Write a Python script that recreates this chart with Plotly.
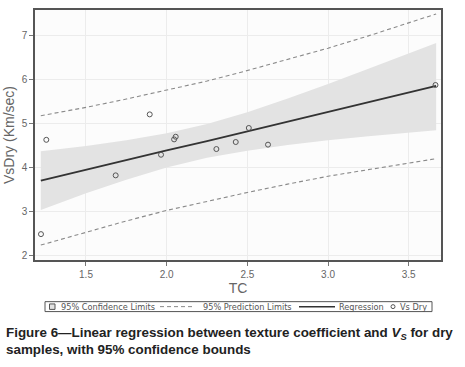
import plotly.graph_objects as go

tc = [1.221, 1.254, 1.684, 1.895, 1.965, 2.046, 2.056, 2.308, 2.428, 2.509, 2.628, 3.666]
vs_dry = [2.48, 4.63, 3.82, 5.21, 4.29, 4.64, 4.70, 4.42, 4.58, 4.90, 4.52, 5.88]

# Fit line and bands (at these TC values)
band_x = [1.22, 1.5, 1.75, 2.0, 2.25, 2.5, 2.75, 3.0, 3.25, 3.5, 3.67]
fit = [3.70, 3.95, 4.17, 4.39, 4.60, 4.82, 5.04, 5.26, 5.48, 5.70, 5.86]
ci_lo = [3.03, 3.41, 3.72, 4.00, 4.22, 4.38, 4.51, 4.62, 4.71, 4.79, 4.85]
ci_hi = [4.37, 4.49, 4.62, 4.78, 4.99, 5.26, 5.57, 5.90, 6.25, 6.60, 6.84]
pi_lo = [2.23, 2.53, 2.78, 3.02, 3.23, 3.43, 3.62, 3.80, 3.95, 4.10, 4.20]
pi_hi = [5.18, 5.37, 5.56, 5.76, 5.97, 6.21, 6.46, 6.72, 7.00, 7.29, 7.50]

x_ticks = [1.5, 2.0, 2.5, 3.0, 3.5]
y_ticks = [2, 3, 4, 5, 6, 7]

legend_labels = ["95% Confidence Limits", "95% Prediction Limits", "Regression", "Vs Dry"]

FONT = "Liberation Sans, Arial, sans-serif"
LEG_FONT = "DejaVu Sans, sans-serif"
GRAY = "#666666"
BAND = "#e3e3e3"
DASH = "#8a8a8a"
LINE = "#333333"
MARK = "#555555"
DASH_PATTERN = "4px,3px"

fig = go.Figure()

fig.add_trace(go.Scatter(x=band_x, y=ci_lo, mode="lines", line=dict(width=0),
                         showlegend=False, hoverinfo="skip"))
fig.add_trace(go.Scatter(x=band_x, y=ci_hi, mode="lines", line=dict(width=0),
                         fill="tonexty", fillcolor=BAND, showlegend=False,
                         name=legend_labels[0]))
fig.add_trace(go.Scatter(x=band_x, y=pi_lo, mode="lines",
                         line=dict(color=DASH, width=1.1, dash=DASH_PATTERN),
                         showlegend=False, name=legend_labels[1]))
fig.add_trace(go.Scatter(x=band_x, y=pi_hi, mode="lines",
                         line=dict(color=DASH, width=1.1, dash=DASH_PATTERN),
                         showlegend=False, name=legend_labels[1]))
fig.add_trace(go.Scatter(x=band_x, y=fit, mode="lines",
                         line=dict(color=LINE, width=2),
                         showlegend=False, name=legend_labels[2]))
fig.add_trace(go.Scatter(x=tc, y=vs_dry, mode="markers",
                         marker=dict(symbol="circle-open", size=5,
                                     color=MARK, line=dict(width=1)),
                         showlegend=False, name=legend_labels[3]))

# ---- compact legend box below the plot (paper coordinates) ----
PW, PH, L, T = 406.0, 252.0, 35.0, 8.0  # plot area size / offsets in px


def px_x(p):
    return (p - L) / PW


def px_y(p):
    return (T + PH - p) / PH


ly = px_y(307)
shapes = [
    dict(type="rect", xref="paper", yref="paper", x0=px_x(45), x1=px_x(432),
         y0=px_y(312), y1=px_y(302), line=dict(color="#555555", width=1),
         fillcolor="white", layer="above"),
    dict(type="rect", xref="paper", yref="paper", x0=px_x(49.5), x1=px_x(55),
         y0=px_y(309.8), y1=px_y(304.3), line=dict(color="#555555", width=1),
         fillcolor=BAND, layer="above"),
    dict(type="line", xref="paper", yref="paper", x0=px_x(160), x1=px_x(195),
         y0=ly, y1=ly, line=dict(color=DASH, width=1, dash=DASH_PATTERN), layer="above"),
    dict(type="line", xref="paper", yref="paper", x0=px_x(299), x1=px_x(335),
         y0=ly, y1=ly, line=dict(color=LINE, width=1.5), layer="above"),
    dict(type="circle", xref="paper", yref="paper", x0=px_x(391), x1=px_x(395),
         y0=px_y(309), y1=px_y(305), line=dict(color=MARK, width=1),
         fillcolor="white", layer="above"),
]
legend_text_x = [58.5, 200.5, 337, 397.5]
annotations = [
    dict(text=lab, xref="paper", yref="paper", x=px_x(xp), y=ly,
         xanchor="left", yanchor="middle", showarrow=False,
         font=dict(family=LEG_FONT, size=8.2, color="#555555"))
    for lab, xp in zip(legend_labels, legend_text_x)
]
annotations.append(dict(
    text=("<b>Figure 6\u2014Linear regression between texture coefficient and "
          "<i>V<sub>S</sub></i> for dry<br>samples, with 95% confidence bounds</b>"),
    xref="paper", yref="paper", x=px_x(4), y=px_y(323),
    xanchor="left", yanchor="top", align="left", showarrow=False,
    font=dict(family=FONT, size=13.4, color="#222222"),
))

fig.update_layout(
    width=465, height=367,
    margin=dict(l=35, r=24, t=8, b=107),
    paper_bgcolor="white",
    plot_bgcolor="#fcfcfc",
    font=dict(family=FONT, color=GRAY),
    showlegend=False,
    shapes=shapes,
    annotations=annotations,
)

fig.update_xaxes(
    range=[1.184, 3.70], tickvals=x_ticks, ticktext=[f"{v:.1f}" for v in x_ticks],
    showgrid=True, gridcolor="#ececec", gridwidth=1, zeroline=False,
    showline=True, linecolor="#555555", linewidth=1.5, mirror=True,
    ticks="outside", ticklen=4, tickcolor="#777777",
    tickfont=dict(size=10, color=GRAY),
    title=dict(text="TC", font=dict(size=14, color=GRAY), standoff=4),
)
fig.update_yaxes(
    range=[1.89, 7.59], tickvals=y_ticks,
    showgrid=True, gridcolor="#ececec", gridwidth=1, zeroline=False,
    showline=True, linecolor="#555555", linewidth=1.5, mirror=True,
    ticks="outside", ticklen=4, tickcolor="#777777",
    tickfont=dict(size=10, color=GRAY),
    title=dict(text="VsDry (Km/sec)", font=dict(size=14, color=GRAY), standoff=4),
)

fig.write_html("out.html", config={"displayModeBar": False},
               post_script="document.body.style.margin='0';")
